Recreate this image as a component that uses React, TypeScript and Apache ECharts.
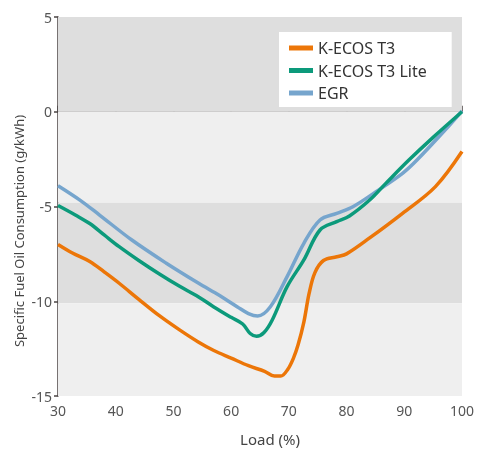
import React, { useEffect, useRef } from "react";
import * as echarts from "echarts";

const seriesNames = ["K-ECOS T3", "K-ECOS T3 Lite", "EGR"];
const seriesColors = ["#ec7608", "#0c9a7b", "#76a5cd"];

const orangeData: [number, number][] = [
  [30, -7.0], [32.5, -7.45], [35.5, -7.9], [38, -8.45], [40.6, -9.05], [44, -9.9],
  [47.5, -10.75], [51, -11.5], [54.3, -12.15], [57, -12.6], [60, -13.0], [63, -13.4],
  [65.8, -13.7], [67.5, -13.95], [68.6, -13.95], [69.8, -13.6], [70.8, -13.0], [71.6, -12.3],
  [72.6, -11.1], [73.5, -9.6], [74.5, -8.5], [76, -7.85], [78.3, -7.65], [80, -7.5],
  [84, -6.66], [89.7, -5.36], [95.4, -3.95], [100, -2.1],
];
const greenData: [number, number][] = [
  [30, -4.95], [33, -5.45], [35.5, -5.9], [38, -6.5], [40.6, -7.12], [44, -7.85],
  [47.5, -8.55], [51, -9.2], [54.3, -9.76], [57, -10.3], [60, -10.85], [62, -11.2],
  [63.3, -11.7], [64.4, -11.85], [65.7, -11.65], [67.1, -11.0], [69.7, -9.23], [72.6, -7.82],
  [75.4, -6.24], [78.3, -5.8], [80.5, -5.5], [84, -4.66], [86.8, -3.78], [90.8, -2.55],
  [95, -1.35], [100, 0],
];
const blueData: [number, number][] = [
  [30, -3.9], [33.8, -4.66], [37.2, -5.45], [42.8, -6.77], [48.7, -7.98], [54.3, -9.04],
  [58, -9.7], [61.1, -10.3], [63, -10.65], [64.6, -10.78], [66.8, -10.29], [69.7, -8.7],
  [72.6, -6.94], [75.4, -5.71], [78.3, -5.36], [81.1, -5.01], [85.1, -4.22], [89.7, -3.25],
  [92.2, -2.55], [97.6, -0.79], [100, 0.05],
];

const bands: [number, number, string][] = [
  [5, 0, "#dedede"],
  [0, -4.8, "#efefef"],
  [-4.8, -10.1, "#dedede"],
  [-10.1, -15, "#efefef"],
];

const xTicks = [30, 40, 50, 60, 70, 80, 90, 100];
const yTicks = [5, 0, -5, -10, -15];
const annotationLines = ["IMO NOx Tier 3", "compliant engine", "Outside ECA"];

const FONT = "'Noto Sans', 'Open Sans', sans-serif";

export default function App() {
  const ref = useRef<HTMLDivElement>(null);
  useEffect(() => {
    if (!ref.current) return;
    const chart = echarts.init(ref.current, undefined, { renderer: "svg", width: 477, height: 450 });
    const allData = [orangeData, greenData, blueData];
    chart.setOption({
      animation: false,
      textStyle: { fontFamily: FONT },
      grid: { left: 58, top: 17, width: 410, height: 379, containLabel: false },
      legend: {
        left: 279,
        top: 32,
        orient: "vertical",
        backgroundColor: "#ffffff",
        padding: [8, 25, 6, 10],
        itemGap: 6.5,
        itemWidth: 24,
        itemHeight: 5,
        icon: "rect",
        data: seriesNames,
        textStyle: { fontSize: 16, color: "#333", fontFamily: FONT },
      },
      xAxis: {
        type: "value",
        min: 30,
        max: 100,
        interval: 10,
        axisLine: { show: true, lineStyle: { color: "#4a4343", width: 1.5 } },
        axisTick: { show: true, inside: true, length: 6, lineStyle: { color: "#4a4343", width: 1.5 } },
        axisLabel: {
          color: "#555",
          fontSize: 14,
          margin: 7,
          formatter: (v: number) => (xTicks.includes(v) ? String(v) : ""),
        },
        splitLine: { show: false },
      },
      yAxis: {
        type: "value",
        min: -15,
        max: 5,
        interval: 5,
        axisLine: { show: true, lineStyle: { color: "#4a4343", width: 1.5 } },
        axisTick: { show: true, length: 4, lineStyle: { color: "#4a4343", width: 1.5 } },
        axisLabel: {
          color: "#555",
          fontSize: 14,
          margin: 6,
          verticalAlign: "middle",
          padding: [6, 0, 0, 0],
          formatter: (v: number) => (yTicks.includes(v) ? String(v) : ""),
        },
        splitLine: { show: false },
      },
      graphic: [
        {
          type: "text",
          left: 79,
          top: 36,
          style: {
            text: annotationLines.join("\n"),
            fontSize: 18,
            lineHeight: 23,
            fill: "#222",
            fontFamily: FONT,
          },
        },
        {
          type: "text",
          x: 270,
          y: 439,
          style: {
            text: "Load (%)",
            fontSize: 15,
            fill: "#444",
            align: "center",
            verticalAlign: "middle",
            fontFamily: FONT,
          },
        },
        {
          type: "text",
          x: 19,
          y: 231,
          rotation: Math.PI / 2,
          style: {
            text: "Specific Fuel Oil Consumption (g/kWh)",
            fontSize: 13,
            fill: "#444",
            align: "center",
            verticalAlign: "middle",
            fontFamily: FONT,
          },
        },
      ],
      series: seriesNames.map((name, i) => ({
        name,
        type: "line",
        data: allData[i],
        smooth: 0.35,
        showSymbol: false,
        symbol: "none",
        lineStyle: { color: seriesColors[i], width: 3.5 },
        itemStyle: { color: seriesColors[i] },
        z: 3 + (2 - i),
        ...(i === 0
          ? {
              markArea: {
                silent: true,
                z: 1,
                data: bands.map(([a, b, c]) => [
                  { yAxis: a, itemStyle: { color: c } },
                  { yAxis: b },
                ]),
              },
            }
          : {}),
      })),
    });
    return () => chart.dispose();
  }, []);
  return (
    <div
      ref={ref}
      style={{ position: "fixed", left: 0, top: 0, width: 477, height: 450 }}
    />
  );
}
